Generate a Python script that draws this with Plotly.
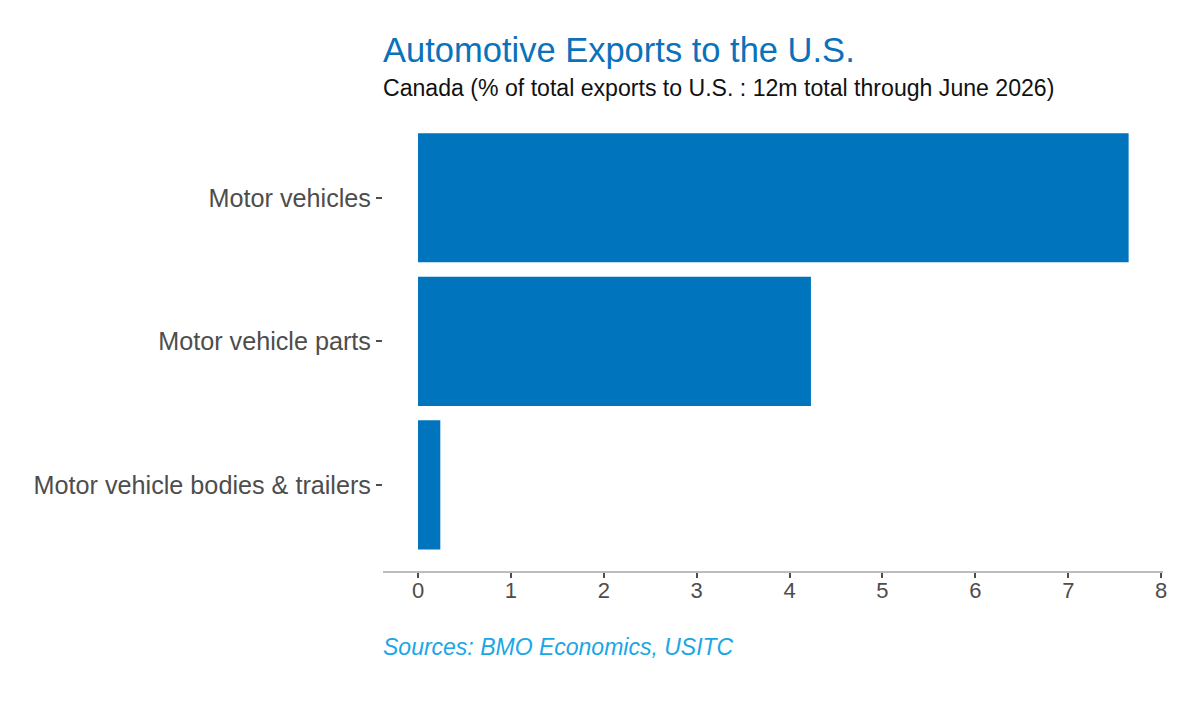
import plotly.graph_objects as go

categories = ["Motor vehicle bodies & trailers", "Motor vehicle parts", "Motor vehicles"]
share_pct = [0.24, 4.23, 7.65]
x_ticks = [0, 1, 2, 3, 4, 5, 6, 7, 8]

BAR_BLUE = "#0075BE"
TITLE_BLUE = "#0A72BA"
SOURCE_BLUE = "#1BA6E6"
FONT = "Liberation Sans, Arial, sans-serif"

fig = go.Figure()
fig.add_trace(go.Bar(
    x=share_pct, y=categories, orientation="h",
    marker=dict(color=BAR_BLUE, line=dict(width=0)),
    hoverinfo="x+y",
))

# the page body adds an 8px offset, so margins are shifted by 8
fig.update_layout(
    width=1200, height=701,
    margin=dict(l=375, r=45, t=118, b=138),
    paper_bgcolor="white", plot_bgcolor="white",
    font=dict(family=FONT, color="#4D4D4D"),
    bargap=0.1,
    showlegend=False,
    xaxis=dict(
        range=[-0.377, 8.02], tickvals=x_ticks,
        showgrid=False, zeroline=False,
        showline=True, linecolor="#BDBDBD", linewidth=2,
        ticks="outside", ticklen=5, tickcolor="#4D4D4D", tickwidth=1.5,
        ticklabelstandoff=-6,
        tickfont=dict(size=22, color="#4D4D4D"),
    ),
    yaxis=dict(
        range=[-0.6, 2.5], type="category", categoryarray=categories,
        showgrid=False, zeroline=False, showline=False,
        ticks="outside", ticklen=6, tickcolor="#4D4D4D", tickwidth=1.5,
        tickfont=dict(size=25.2, color="#4D4D4D"),
    ),
    annotations=[
        dict(text="Automotive Exports to the U.S.", xref="paper", yref="paper",
             x=-0.0026, y=1.171, xanchor="left", yanchor="middle", showarrow=False,
             font=dict(size=34.5, color=TITLE_BLUE, family=FONT)),
        dict(text="Canada (% of total exports to U.S. : 12m total through June 2026)",
             xref="paper", yref="paper", x=-0.0026, y=1.085, xanchor="left",
             yanchor="middle", showarrow=False,
             font=dict(size=23.1, color="#111111", family=FONT)),
        dict(text="<i>Sources: BMO Economics, USITC</i>", xref="paper", yref="paper",
             x=-0.0026, y=-0.171, xanchor="left", yanchor="middle", showarrow=False,
             font=dict(size=23, color=SOURCE_BLUE, family=FONT)),
    ],
)

fig.write_html("out.html")
